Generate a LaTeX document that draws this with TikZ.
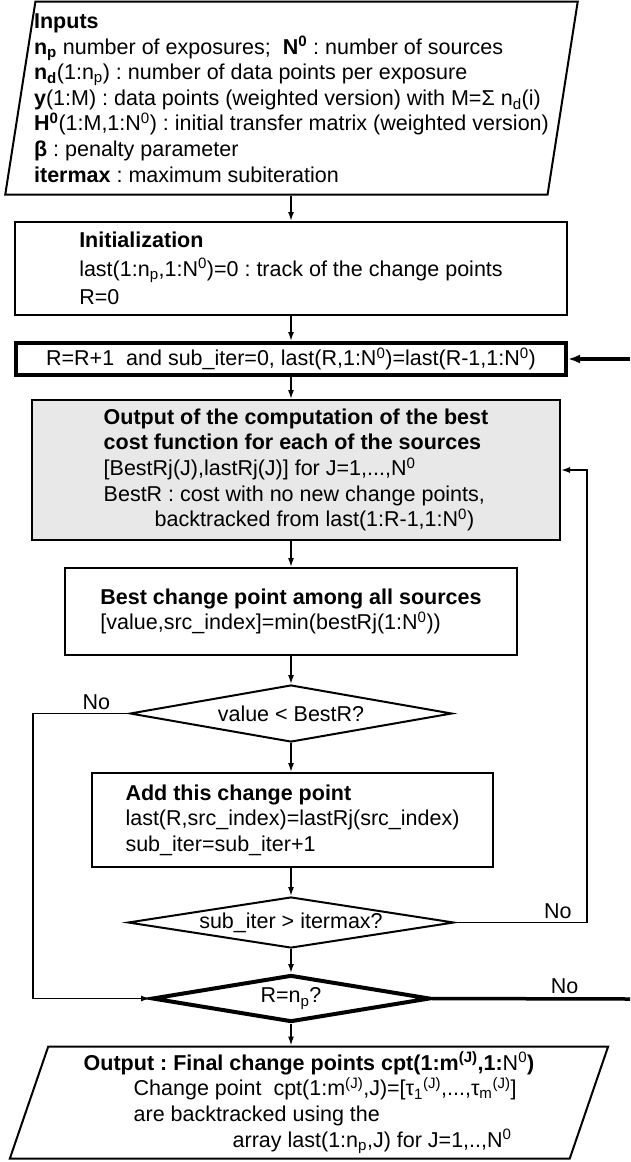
\documentclass[tikz,border=0pt]{standalone}
\usepackage{fontspec}
\setmainfont{Liberation Sans}
\usetikzlibrary{shapes.geometric, arrows.meta, positioning}

\begin{document}
\frenchspacing
\begin{tikzpicture}[x=1pt, y=-1pt,
    font=\fontsize{21.5}{25.6}\selectfont,
    box/.style={draw, rectangle, line width=2pt, inner sep=0pt, align=left},
    io/.style={draw, trapezium, trapezium stretches=true, line width=2pt, inner sep=0pt, align=left},
    test/.style={draw, diamond, line width=2pt, inner sep=0pt},
    arrow/.style={-{Latex[length=9pt, width=6pt]}, line width=1.5pt},
    bigarrow/.style={-{Latex[length=12pt, width=9pt]}, line width=3.5pt}]

    \useasboundingbox (0,0) rectangle (630,1162);

    \node[io, trapezium left angle=79.8, trapezium right angle=100.2, minimum width=577pt, minimum height=193pt] (inputs) at (291.5,98) {\textbf{Inputs}\\
        \textbf{n\textsubscript{p}} number of exposures;\ \ \textbf{N\textsuperscript{0}} : number of sources\\
        \textbf{n\textsubscript{d}}(1:n\textsubscript{p}) : number of data points per exposure\\
        \textbf{y}(1:M) : data points (weighted version) with M=Σ n\textsubscript{d}(i)\\
        \textbf{H\textsuperscript{0}}(1:M,1:N\textsuperscript{0}) : initial transfer matrix (weighted version)\\
        \textbf{β} : penalty parameter\\
        \textbf{itermax} : maximum subiteration};
    \node[box, minimum width=552pt, minimum height=93pt] (init) at (291,268.5) {\textbf{Initialization}\\[3pt]
        last(1:n\textsubscript{p},1:N\textsuperscript{0})=0 : track of the change points\\[3pt]
        R=0};
    \node[box, line width=4pt, minimum width=550pt, minimum height=32pt] (rloop) at (291,359) {R=R+1\ \ and sub\_iter=0, last(R,1:N\textsuperscript{0})=last(R-1,1:N\textsuperscript{0})};
    \node[box, fill=gray!18, minimum width=528pt, minimum height=140pt] (cost) at (296,470) {\textbf{Output of the computation of the best}\\
        \textbf{cost function for each of the sources}\\
        {[}BestRj(J),lastRj(J)] for J=1,...,N\textsuperscript{0}\\
        BestR : cost with no new change points,\\
        \hspace*{51pt}backtracked from last(1:R-1,1:N\textsuperscript{0})};
    \node[box, minimum width=452pt, minimum height=87pt] (best) at (291,611.5) {\textbf{Best change point among all sources}\\
        {[}value,src\_index]=min(bestRj(1:N\textsuperscript{0}))};
    \node[test, aspect=5.6, minimum width=322pt, minimum height=57pt] (value) at (291,713.5) {value < BestR?};
    \node[box, minimum width=401pt, minimum height=94pt] (add) at (292.5,820) {\textbf{Add this change point}\\
        last(R,src\_index)=lastRj(src\_index)\\
        sub\_iter=sub\_iter+1};
    \node[test, aspect=6.4, minimum width=326pt, minimum height=51pt] (subit) at (291,922.5) {sub\_iter > itermax?};
    \node[test, aspect=5.9, line width=4pt, minimum width=278pt, minimum height=47pt] (rnp) at (291,998.5) {R=n\textsubscript{p}?};
    \node[io, trapezium left angle=71.9, trapezium right angle=108.1, minimum width=602pt, minimum height=112pt] (output) at (309,1102.5) {\textbf{Output : Final change points cpt(1:m\textsuperscript{(J)},1:}N\textsuperscript{0}\textbf{)}\\
        \hspace*{50pt}Change point\ \ cpt(1:m\textsuperscript{(J)},J)={[}τ\textsubscript{1}\textsuperscript{(J)},...,τ\textsubscript{m}\textsuperscript{(J)}]\\
        \hspace*{50pt}are backtracked using the\\
        \hspace*{149pt}array last(1:n\textsubscript{p},J) for J=1,..,N\textsuperscript{0}};

    \coordinate (leftrail) at (33,0);
    \coordinate (rightrail) at (587,0);
    \coordinate (edgeout) at (630,999);
    \coordinate (edgein) at (630,359);

    \draw[arrow] (init |- inputs.south) -- (init.north);
    \draw[arrow] (init) -- (rloop);
    \draw[arrow] (rloop) -- (rloop |- cost.north);
    \draw[arrow] (best |- cost.south) -- (best);
    \draw[arrow] (best) -- (value);
    \draw[arrow] (value) -- (value |- add.north);
    \draw[arrow] (add.south -| subit) -- (subit);
    \draw[arrow] (subit) -- (rnp);
    \draw[arrow] (rnp) -- (rnp |- output.north);

    \draw[arrow] (subit.east) -- (subit.east -| rightrail) node[above, pos=0.78] {No} |- (cost.east);
    \draw[arrow] (value.west) -- (value.west -| leftrail) node[above, pos=0.34] {No} |- (rnp.west);
    \draw[line width=3.5pt] (rnp.east) -- (edgeout) node[above, pos=0.67] {No};
    \draw[bigarrow] (edgein) -- (rloop.east);
\end{tikzpicture}
\end{document}
